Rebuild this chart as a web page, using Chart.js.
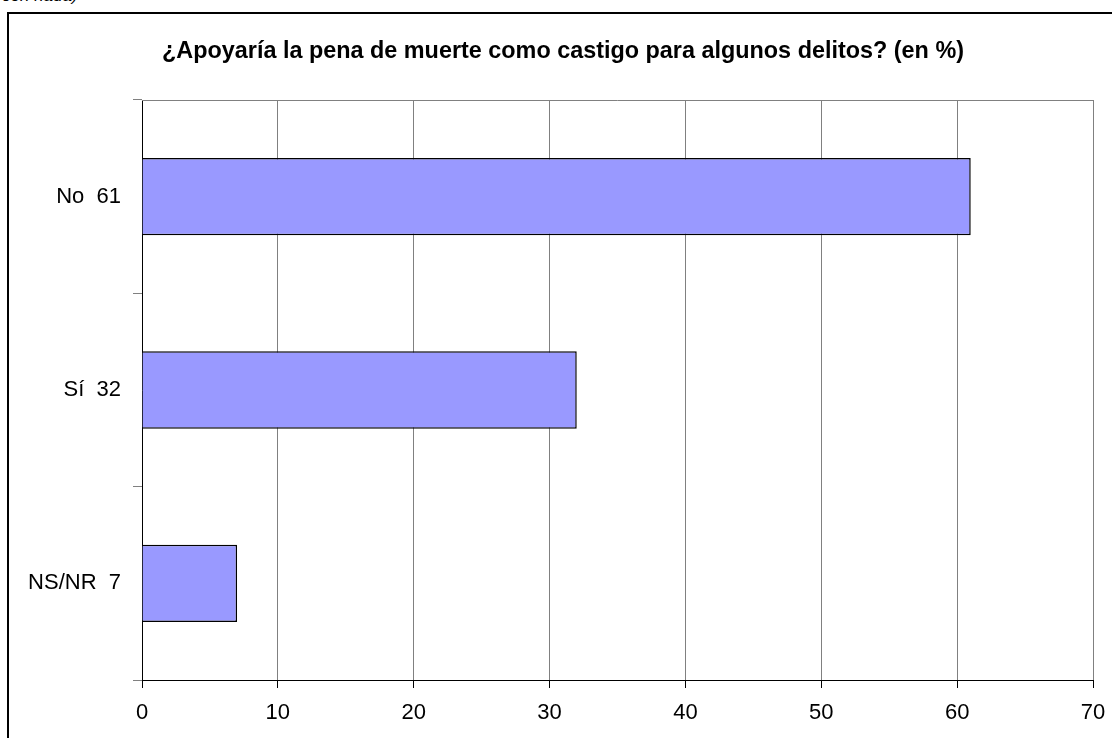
<!DOCTYPE html>
<html>
<head>
<meta charset="utf-8">
<script src="https://cdn.jsdelivr.net/npm/chart.js@4"></script>
<style>
  html, body { margin: 0; padding: 0; background: #fff; width: 1112px; height: 738px; overflow: hidden; }
  #frame { position: absolute; left: 7px; top: 12px; width: 1200px; height: 800px; border: 2px solid #000; box-sizing: border-box; }
  #note { position: absolute; left: 2px; top: -14px; font: italic 17px "Liberation Sans", Arial, sans-serif; color: #000; }
  #wrap { position: absolute; left: 0; top: 0; width: 1112px; height: 738px; }
  #title { position: absolute; left: 0; top: 36px; width: 1126px; text-align: center; font: bold 23.4px/28px "Liberation Sans", Arial, sans-serif; color: #000; white-space: nowrap; }
  canvas { display: block; }
</style>
</head>
<body>
<div id="note">con nada)</div>
<div id="frame"></div>
<div id="wrap"><canvas id="c" width="1112" height="738" style="width:1112px;height:738px"></canvas></div>
<div id="title"></div>
<script>
const titleText = "¿Apoyaría la pena de muerte como castigo para algunos delitos? (en %)";
const categories = ["No  61", "Sí  32", "NS/NR  7"];
const values = [61, 32, 7];
const xTicks = [0, 10, 20, 30, 40, 50, 60, 70];

const FONT = '"Liberation Sans", Arial, sans-serif';
document.getElementById('title').textContent = titleText;

const areaBorder = {
  id: 'areaBorder',
  beforeDatasetsDraw(chart) {
    const a = chart.chartArea, ctx = chart.ctx;
    ctx.save();
    ctx.strokeStyle = '#808080';
    ctx.lineWidth = 1;
    ctx.beginPath();
    ctx.moveTo(a.left, a.top + 0.5);
    ctx.lineTo(a.right + 0.5, a.top + 0.5);
    ctx.lineTo(a.right + 0.5, a.bottom);
    ctx.stroke();
    ctx.restore();
  }
};

new Chart(document.getElementById('c'), {
  type: 'bar',
  data: {
    labels: categories,
    datasets: [{
      data: values,
      backgroundColor: '#9999FF',
      borderColor: '#000000',
      borderWidth: 1.5,
      categoryPercentage: 1,
      barPercentage: 0.4
    }]
  },
  options: {
    indexAxis: 'y',
    responsive: false,
    animation: false,
    devicePixelRatio: 1,
    layout: { padding: { left: 0, right: 19, top: 100, bottom: 0 } },
    plugins: {
      legend: { display: false },
      tooltip: { enabled: false },
      title: { display: false }
    },
    scales: {
      x: {
        min: 0, max: 70,
        afterBuildTicks(scale) { scale.ticks = xTicks.map(v => ({ value: v })); },
        afterFit(scale) { scale.height = 58; scale.paddingLeft = 0; scale.paddingRight = 0; },
        grid: { color: '#808080', lineWidth: 1, tickLength: 8, tickColor: '#000' },
        border: { color: '#000', width: 1 },
        ticks: { color: '#000', font: { family: FONT, size: 22 }, padding: 12, maxRotation: 0 }
      },
      y: {
        afterFit(scale) { scale.width = 142; scale.paddingTop = 0; scale.paddingBottom = 0; },
        grid: { drawOnChartArea: false, offset: true, tickLength: 9, color: '#808080' },
        border: { color: '#000', width: 1 },
        ticks: { color: '#000', font: { family: FONT, size: 22 }, padding: 12 }
      }
    }
  },
  plugins: [areaBorder]
});
</script>
</body>
</html>
